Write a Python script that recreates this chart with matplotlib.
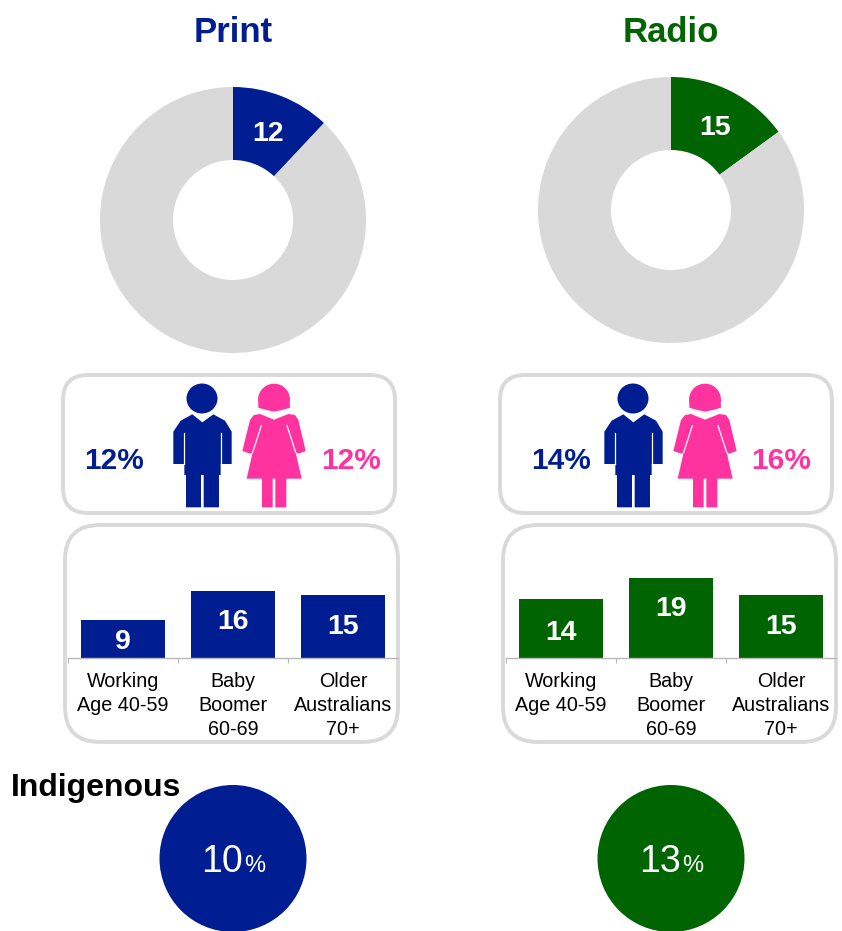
"""Print and Radio readership panels: donut, gender, age group and Indigenous."""
import matplotlib
matplotlib.use("Agg")
import matplotlib.pyplot as plt
import matplotlib.patches as mp
import numpy as np

plt.rcParams.update({
    "font.family": ["Liberation Sans", "DejaVu Sans"],
    "figure.facecolor": "white", "savefig.facecolor": "white",
})

W, H = 842, 931
NAVY = "#001e91"; GREEN = "#006400"; PINK = "#ff339f"
GRAY = "#d9d9d9"; AXIS = "#b8b8b8"

titles = ["Print", "Radio"]
colors = [NAVY, GREEN]
overall = [12, 15]
men = [12, 14]
women = [12, 16]
indigenous = [10, 13]
age_groups = ["Working\nAge 40-59", "Baby\nBoomer\n60-69", "Older\nAustralians\n70+"]
print_age = [9, 16, 15]
radio_age = [14, 19, 15]
age_values = [print_age, radio_age]

# layout, in reference pixels
DONUT_C = [(233, 220), (671, 210)]
DONUT_LABEL = [(268, 131), (715, 125)]
DONUT_R = 133
GENDER_X = [63, 500]
AGE_X = [65, 503]
BAR_X = [68, 506]
SHIFT = [0, 431]
CIRCLE_X = [233, 671]
BAR_LABEL_DY = [[3, -2, 1], [4, -9, 1]]


def px_axes(x0, y0, x1, y1):
    return fig.add_axes([x0 / W, 1 - y1 / H, (x1 - x0) / W, (y1 - y0) / H])


def z(pts, dx):
    return [(x / 3 + 50 + dx, y / 3 + 365) for x, y in pts]


def man(ax, dx):
    ax.add_patch(mp.Ellipse((202 + dx, 398.5), 31, 30, fc=NAVY, ec="none"))
    body = [(427, 148), (457, 172), (490, 148), (525, 167), (545, 200), (545, 297),
            (512, 297), (512, 330), (507, 330), (507, 427), (461, 427), (461, 330),
            (453, 330), (453, 427), (408, 427), (408, 330), (403, 330), (403, 297),
            (370, 297), (370, 200), (392, 167)]
    ax.add_patch(mp.Polygon(z(body, dx), fc=NAVY, ec="none"))
    for sx in (402, 512):
        ax.plot(*zip(*z([(sx, 205), (sx, 297)], dx)), color="white", lw=0.9)


def woman(ax, dx):
    ang = np.radians(np.arange(-10, 191, 10))
    hair = [(672 + 48 * np.cos(a), 104 - 48 * np.sin(a)) for a in ang]
    hair += [(625, 128), (645, 134), (672, 140), (700, 134), (720, 128)]
    ax.add_patch(mp.Polygon(z(hair, dx), fc=PINK, ec="none"))
    body = [(612, 150), (630, 147), (672, 164), (715, 147), (735, 150), (745, 165),
            (767, 258), (745, 266), (737, 262), (755, 341), (709, 341), (709, 427),
            (676, 427), (676, 341), (668, 341), (668, 427), (636, 427), (636, 341),
            (590, 341), (608, 262), (600, 266), (577, 258), (600, 165)]
    ax.add_patch(mp.Polygon(z(body, dx), fc=PINK, ec="none"))
    for pair in ([(634, 182), (608, 262)], [(711, 182), (737, 262)]):
        ax.plot(*zip(*z(pair, dx)), color="white", lw=0.9)


fig = plt.figure(figsize=(W / 100, H / 100), dpi=100)

# ── Background layer in pixel coordinates ─────────────────────
bg = fig.add_axes([0, 0, 1, 1])
bg.set_xlim(0, W); bg.set_ylim(H, 0); bg.axis("off")

for i in range(2):
    col = colors[i]
    bg.text(CIRCLE_X[i], 33, titles[i], ha="center", va="center", fontsize=25,
            fontweight="bold", color=col)

    # gender box
    gx = GENDER_X[i]
    bg.add_patch(mp.FancyBboxPatch((gx + 25, 375 + 25), 332 - 50, 138 - 50,
                                   boxstyle="round,pad=25", fc="white", ec=GRAY, lw=2.8))
    man(bg, SHIFT[i])
    woman(bg, SHIFT[i])
    men_x = [114, 561][i]
    women_x = [351, 781][i]
    bg.text(men_x, 461, f"{men[i]}%", ha="center", va="center", fontsize=21.5,
            fontweight="bold", color=NAVY)
    bg.text(women_x, 461, f"{women[i]}%", ha="center", va="center", fontsize=21.5,
            fontweight="bold", color=PINK)

    # age box
    ax0 = AGE_X[i]
    bg.add_patch(mp.FancyBboxPatch((ax0 + 35, 525 + 35), 333 - 70, 217 - 70,
                                   boxstyle="round,pad=35", fc="white", ec=GRAY, lw=2.8))

    # indigenous circle
    bg.add_patch(mp.Circle((CIRCLE_X[i], 858.5), 73.5, fc=col, ec="none"))
    bg.text(CIRCLE_X[i] - 11, 862, f"{indigenous[i]}", ha="center", va="center",
            fontsize=27, color="white")
    bg.text(CIRCLE_X[i] + 22, 866, "%", ha="center", va="center", fontsize=17, color="white")

bg.text(11, 788, "Indigenous", ha="left", va="center", fontsize=23, fontweight="bold",
        color="black")

# ── Donuts ────────────────────────────────────────────────────
for i in range(2):
    cx, cy = DONUT_C[i]
    ax = px_axes(cx - DONUT_R, cy - DONUT_R, cx + DONUT_R, cy + DONUT_R)
    ax.pie([overall[i], 100 - overall[i]], colors=[colors[i], GRAY], startangle=90,
           counterclock=False, radius=1, wedgeprops=dict(width=73 / 133, lw=0))
    ax.set_xlim(-1, 1); ax.set_ylim(-1, 1)
    ax.patch.set_alpha(0)

# ── Age bars ──────────────────────────────────────────────────
PX_PER_UNIT = 4.2
for i in range(2):
    x0 = BAR_X[i]
    ax = px_axes(x0, 658 - 100, x0 + 330, 658)
    ax.patch.set_alpha(0)
    xs = range(len(age_groups))
    ax.bar(xs, age_values[i], width=0.77, color=colors[i], lw=0)
    ax.set_xlim(-0.5, 2.5); ax.set_ylim(0, 100 / PX_PER_UNIT)
    for s in ("top", "left", "right"):
        ax.spines[s].set_visible(False)
    ax.spines["bottom"].set_color(AXIS)
    ax.spines["bottom"].set_linewidth(1)
    ax.set_yticks([])
    ax.set_xticks([-0.5, 0.5, 1.5], minor=True)
    ax.tick_params(axis="x", which="minor", length=3.6, width=0.8, color=AXIS)
    ax.set_xticks(list(xs))
    ax.set_xticklabels(age_groups, fontsize=14.2, linespacing=1.32, color="black")
    ax.tick_params(axis="x", which="major", length=0, pad=10.2)
    for j, v in enumerate(age_values[i]):
        ax.text(j, v / 2 - BAR_LABEL_DY[i][j] / PX_PER_UNIT, str(v), ha="center", va="center",
                fontsize=20.5, fontweight="bold", color="white")

# ── Donut numbers on top ──────────────────────────────────────
top = fig.add_axes([0, 0, 1, 1])
top.set_xlim(0, W); top.set_ylim(H, 0); top.axis("off")
for i in range(2):
    lx, ly = DONUT_LABEL[i]
    top.text(lx, ly + 3, str(overall[i]), ha="center", va="center", fontsize=20.5,
             fontweight="bold", color="white")

fig.savefig("out.png", dpi=100, facecolor="white")
plt.close(fig)
